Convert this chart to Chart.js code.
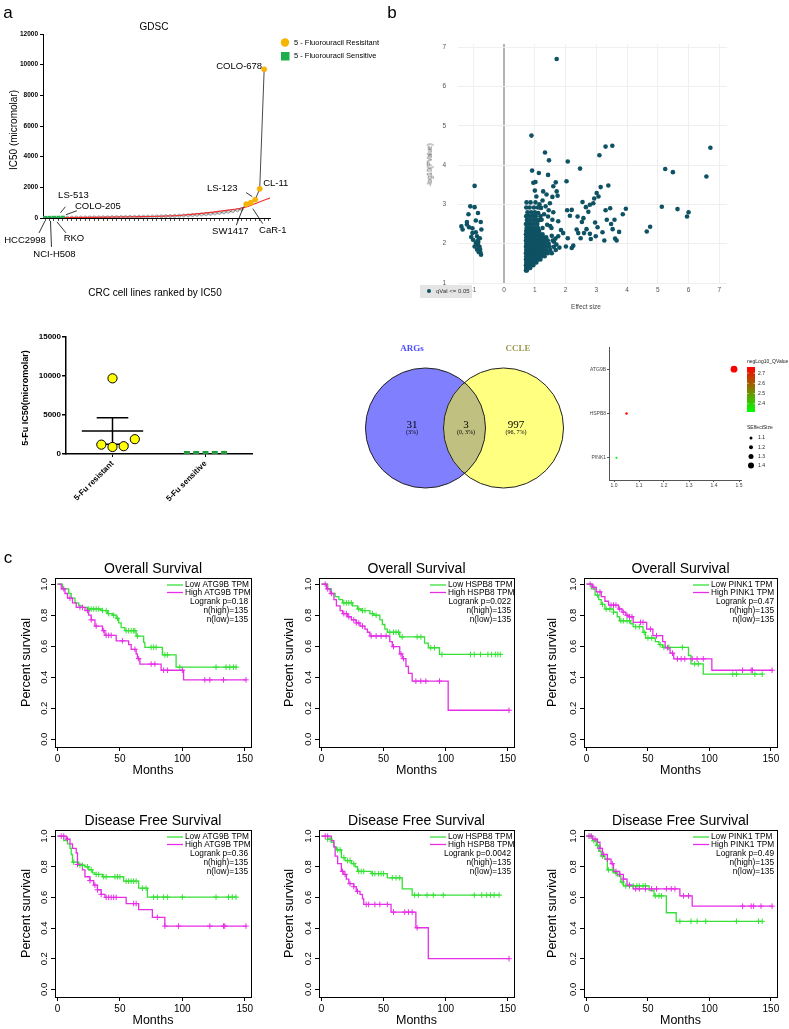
<!DOCTYPE html>
<html>
<head>
<meta charset="utf-8">
<title>5-FU resistance, autophagy genes and survival</title>
<script src="https://cdn.jsdelivr.net/npm/chart.js@4.4.1/dist/chart.umd.min.js"></script>
<style>
  body { margin: 0; background: #fff; }
  #page { position: relative; width: 789px; height: 1029px; overflow: hidden; font-family: "Liberation Sans", Arial, sans-serif; color: #000; }
  canvas { position: absolute; }
  .lbl { position: absolute; white-space: nowrap; transform: translate(-50%, -50%); line-height: 1; }
  .rot { transform: translate(-50%, -50%) rotate(-90deg); }
  #qbox { position: absolute; left: 420px; top: 285px; width: 52px; height: 13px; background: #e4e4e4; font-size: 6px; color: #333; }
</style>
</head>
<body>
<div id="page">
  <canvas id="gdsc" width="390" height="300" style="left:0;top:0"></canvas>
  <canvas id="volcano" width="399" height="320" style="left:390px;top:0"></canvas>
  <canvas id="fuDot" width="330" height="185" style="left:0;top:320px"></canvas>
  <canvas id="venn" width="235" height="165" style="left:350px;top:335px"></canvas>
  <canvas id="bubble" width="199" height="165" style="left:590px;top:335px"></canvas>
  <canvas id="km0" width="263" height="240" style="left:0;top:540px"></canvas>
  <canvas id="km1" width="263" height="240" style="left:263px;top:540px"></canvas>
  <canvas id="km2" width="263" height="240" style="left:526px;top:540px"></canvas>
  <canvas id="km3" width="263" height="239" style="left:0;top:790px"></canvas>
  <canvas id="km4" width="263" height="239" style="left:263px;top:790px"></canvas>
  <canvas id="km5" width="263" height="239" style="left:526px;top:790px"></canvas>

  <div class="lbl" style="left:8px;top:12px;font-size:17px">a</div>
  <div class="lbl" style="left:154px;top:27px;font-size:10px">GDSC</div>
  <div class="lbl rot" style="left:14px;top:130px;font-size:10px">IC50 (micromolar)</div>
  <div class="lbl" style="left:155px;top:293px;font-size:10px">CRC cell lines ranked by IC50</div>
  <div class="lbl" style="left:392px;top:12px;font-size:17px">b</div>
  <div class="lbl rot" style="left:430px;top:165px;font-size:6.5px;color:#444">-log10(PValue)</div>
  <div class="lbl" style="left:586px;top:307px;font-size:6.5px;color:#444">Effect size</div>
  <div id="qbox"><span style="position:absolute;left:7px;top:4px;width:4px;height:4px;border-radius:2px;background:#0e5263"></span><span style="position:absolute;left:16px;top:3px">qVal &lt;= 0.05</span></div>
  <div class="lbl rot" style="left:25px;top:398px;font-size:9px;font-weight:bold">5-Fu IC50(micromolar)</div>
  <div class="lbl" style="left:8px;top:557px;font-size:17px">c</div>
</div>

<script>
// ---- data ----
// panel a: GDSC CRC cell lines ranked by 5-FU IC50
const gdscSensitive = [3, 6, 10, 14, 18];
const gdscOther = [22, 25, 28, 30, 33, 36, 39, 42, 45, 48, 52, 56, 60, 64, 68, 73, 78, 84, 90, 96,
                   103, 110, 118, 127, 137, 148, 160, 174, 190, 208, 228, 250, 275, 303, 335, 370, 410, 455, 510, 580];
const gdscResistant = [900, 1000, 1200, 1900, 9700];
const gdscFitRank = [0, 10, 20, 27, 31, 35, 40, 45, 47.5, 50.3];
const gdscFitValue = [15, 40, 80, 130, 200, 300, 480, 720, 1000, 1300];
const gdscNamed = ['HCC2998', 'NCI-H508', 'RKO', 'LS-513', 'COLO-205', 'SW1417', 'CaR-1', 'LS-123', 'CL-11', 'COLO-678'];
const gdscNamedRank = [0, 1, 2, 3, 4, 45, 46, 47, 48, 49];

// panel b: effect size vs -log10(p)
const volcanoPoints = [
  [1.71,6.70],[0.89,4.75],[1.33,4.32],[1.46,4.12],[2.07,4.09],[2.47,3.91],[0.91,3.86],[1.13,3.80],[1.43,3.75],
  [3.30,4.47],[3.52,4.49],[3.10,4.25],[6.71,4.44],[5.24,3.90],[5.49,3.82],[6.58,3.71],[2.03,3.59],[3.39,3.48],
  [3.14,3.44],[5.13,2.94],[5.64,2.88],[6.00,2.80],[5.95,2.69],[4.64,2.31],[4.75,2.43],[3.96,2.89],[3.86,2.75],
  [3.45,2.90],[3.01,3.29],[3.07,3.20],[2.93,3.15],[2.90,3.03],[2.79,2.99],[2.55,3.06],[2.66,2.93],[2.74,2.81],
  [2.20,2.86],[2.05,2.85],[2.14,2.71],[2.39,2.69],[2.58,2.65],[2.53,2.55],[2.68,2.37],[2.60,2.27],[2.79,2.25],
  [2.36,2.36],[2.41,2.27],[2.49,2.14],[2.82,2.12],[2.98,2.19],[3.04,2.42],[2.96,2.54],[3.20,2.29],[3.26,2.08],
  [3.34,2.61],[3.48,2.50],[3.53,2.37],[3.59,2.61],[3.74,2.30],[3.61,2.13],[3.66,2.08],[3.30,2.85],[1.76,2.57],
  [1.67,2.13],[1.76,2.19],[2.07,2.14],[2.01,1.93],[2.25,1.95],[2.20,1.89],[1.92,2.27],[1.68,3.56],[1.60,3.46],
  [1.71,3.33],[1.74,3.22],[1.27,3.33],[1.38,3.25],[1.57,3.19],[1.49,3.03],[1.20,2.91],[1.11,2.78],[1.43,2.69],
  [1.57,2.61],[1.40,2.48],[1.22,2.61],[1.54,2.40],[1.62,2.05],[1.70,1.98],[1.80,1.90],[1.55,2.20],[1.85,2.35],
  [1.50,2.45],[1.30,2.75],[1.35,2.95],[1.25,3.10],[1.05,3.20],[1.00,3.35],[0.95,3.55],[1.02,3.57],[1.15,3.00],
  [1.45,2.85],[1.60,2.80],
  [-0.96,3.47],[-1.10,2.95],[-0.96,2.93],[-1.16,2.75],[-0.85,2.78],[-1.39,2.44],[-1.35,2.36],[-1.21,2.49],
  [-1.14,2.42],[-1.03,2.39],[-0.76,2.55],[-0.74,2.36],[-0.92,2.29],[-0.88,2.19],[-1.07,2.17],[-0.79,2.14],
  [-1.01,2.10],[-0.92,2.02],[-0.85,1.97],[-0.96,1.93],[-0.88,1.85],[-0.79,1.81],[-0.82,1.89],[-0.75,1.72],
  [-0.77,1.77],[-0.84,2.04],[-1.03,2.27],[-1.21,2.55],[-0.92,2.59],[-0.80,1.92],[-0.86,2.08],[-0.78,1.85],[-0.83,1.79]
];
// dense part of the cloud, one row per -log10(p) level: [y, [effect sizes]]
const volcanoDenseRows = [
  [1.32, [0.71, 0.74]],
  [1.38, [0.72, 0.76, 0.80, 0.85]],
  [1.45, [0.71, 0.75, 0.79, 0.84, 0.89, 0.95]],
  [1.52, [0.72, 0.77, 0.82, 0.87, 0.93, 0.99, 1.05]],
  [1.60, [0.71, 0.75, 0.80, 0.86, 0.92, 0.98, 1.04, 1.11, 1.18]],
  [1.68, [0.72, 0.77, 0.83, 0.89, 0.95, 1.01, 1.08, 1.15, 1.23, 1.32]],
  [1.76, [0.71, 0.76, 0.82, 0.88, 0.94, 1.00, 1.07, 1.14, 1.22, 1.30, 1.42, 1.55]],
  [1.84, [0.72, 0.78, 0.84, 0.90, 0.97, 1.04, 1.11, 1.19, 1.27, 1.37, 1.50, 1.68]],
  [1.92, [0.71, 0.76, 0.82, 0.88, 0.95, 1.02, 1.09, 1.17, 1.25, 1.36, 1.48, 1.62]],
  [2.00, [0.72, 0.78, 0.85, 0.92, 0.99, 1.06, 1.14, 1.22, 1.33, 1.45]],
  [2.08, [0.71, 0.77, 0.83, 0.90, 0.97, 1.04, 1.12, 1.21, 1.30, 1.42, 1.58]],
  [2.16, [0.72, 0.79, 0.86, 0.93, 1.01, 1.09, 1.18, 1.28, 1.37]],
  [2.24, [0.71, 0.77, 0.84, 0.91, 0.99, 1.07, 1.16, 1.25]],
  [2.32, [0.72, 0.80, 0.88, 0.96, 1.05, 1.14]],
  [2.40, [0.73, 0.82, 0.90, 1.00, 1.10, 1.25]],
  [2.50, [0.71, 0.79, 0.88, 0.98, 1.08]],
  [2.60, [0.74, 0.84, 0.95, 1.05, 1.15]],
  [2.70, [0.72, 0.81, 0.92, 1.03, 1.18]],
  [2.80, [0.76, 0.88, 1.00]],
  [2.92, [0.72, 0.83, 0.97, 1.10]],
  [3.05, [0.73, 0.86, 1.02]]
];

// middle left: 5-FU IC50 by group
const fuGroups = ['5-Fu resistant', '5-Fu sensitive'];
const fuResistant = [1200, 900, 1000, 1900, 9700];
const fuSensitive = [5, 8, 10, 12, 15];

// Venn
const vennNames = ['ARGs', 'CCLE'];
const vennOnly = [31, 997];
const vennBoth = 3;

// bubble plot
const bubbleGenes = ['ATG9B', 'HSPB8', 'PINK1'];
const bubbleEffect = [1.48, 1.05, 1.01];
const bubbleNegLogQ = [2.76, 2.74, 2.32];
const bubbleQTicks = [2.4, 2.5, 2.6, 2.7];
const bubbleSizeTicks = [1.1, 1.2, 1.3, 1.4];

// panel c: Kaplan-Meier curves, [month, survival after step]
const osAtg9bLow = [[0,1],[4,0.97],[9,0.94],[11,0.91],[14,0.88],[17,0.86],[20,0.85],[24,0.84],[35,0.83],[40,0.81],[44,0.80],[47,0.78],[49,0.75],[51,0.72],[54,0.70],[63,0.665],[69,0.625],[70,0.593],[84,0.544],[95,0.465],[144,0.465]];
const osAtg9bHigh = [[0,1],[3,0.97],[6,0.94],[8,0.91],[12,0.88],[15,0.85],[22,0.83],[25,0.80],[27,0.77],[30,0.73],[36,0.70],[38,0.67],[47,0.635],[57,0.61],[59,0.58],[63,0.55],[64,0.52],[66,0.485],[83,0.445],[101,0.383],[151,0.383]];
const osAtg9bLowCens = [25,27,29,31,33,36,39,41,45,48,55,57,59,61,62,64,75,77,79,86,88,98,127,135,138,141,143];
const osAtg9bHighCens = [5,10,18,20,24,27,31,37,39,41,43,52,62,65,75,78,85,88,100,118,122,133,151];

const osHspb8Low = [[0,1],[5,0.97],[8,0.94],[11,0.92],[14,0.90],[17,0.88],[25,0.86],[29,0.84],[32,0.83],[39,0.81],[42,0.80],[47,0.77],[49,0.74],[51,0.71],[53,0.69],[63,0.66],[83,0.62],[86,0.59],[95,0.547],[144,0.547]];
const osHspb8High = [[0,1],[4,0.97],[7,0.94],[10,0.90],[12,0.86],[15,0.83],[17,0.81],[21,0.79],[24,0.77],[28,0.75],[31,0.73],[35,0.71],[37,0.69],[39,0.666],[55,0.63],[57,0.597],[63,0.55],[65,0.52],[68,0.47],[70,0.425],[73,0.375],[102,0.187],[151,0.187]];
const osHspb8LowCens = [18,20,22,24,30,33,35,41,44,55,58,60,62,65,77,80,88,91,97,120,123,128,134,137,140,142,144];
const osHspb8HighCens = [3,5,8,18,20,22,26,28,30,33,40,44,48,52,58,64,66,76,80,84,95,151];

const osPink1Low = [[0,1],[4,0.97],[7,0.93],[10,0.90],[12,0.87],[15,0.84],[22,0.82],[25,0.79],[27,0.764],[36,0.745],[38,0.726],[46,0.69],[48,0.653],[56,0.63],[59,0.61],[62,0.593],[83,0.54],[85,0.486],[95,0.42],[143,0.42]];
const osPink1High = [[0,1],[5,0.98],[8,0.95],[12,0.92],[15,0.89],[18,0.865],[26,0.84],[29,0.82],[32,0.80],[34,0.79],[38,0.754],[49,0.71],[54,0.668],[62,0.63],[64,0.59],[68,0.555],[71,0.518],[102,0.445],[151,0.445]];
const osPink1LowCens = [9,13,16,19,22,28,30,33,35,40,43,47,50,53,60,63,67,78,88,91,119,122,137,143];
const osPink1HighCens = [3,6,11,20,22,24,27,30,33,35,37,44,46,52,57,66,70,74,77,80,86,90,95,127,134,135,151];

const dfsAtg9bLow = [[0,1],[5,0.97],[8,0.95],[10,0.92],[11,0.88],[12,0.83],[17,0.81],[22,0.80],[25,0.78],[28,0.76],[30,0.75],[36,0.735],[53,0.706],[65,0.66],[72,0.602],[144,0.602]];
const dfsAtg9bHigh = [[0,1],[7,0.98],[10,0.95],[12,0.92],[15,0.89],[16,0.815],[20,0.78],[22,0.735],[26,0.71],[29,0.68],[32,0.65],[35,0.62],[38,0.60],[55,0.56],[65,0.52],[76,0.47],[86,0.413],[151,0.413]];
const dfsAtg9bLowCens = [13,18,20,24,27,31,33,37,39,46,48,50,55,57,59,61,63,68,71,77,80,85,88,100,127,137,140,143];
const dfsAtg9bHighCens = [3,5,8,16,26,30,32,35,39,41,43,45,47,61,63,80,86,97,122,133,134,151];

const dfsHspb8Low = [[0,1],[5,0.98],[8,0.96],[10,0.93],[12,0.91],[16,0.86],[19,0.84],[24,0.82],[27,0.80],[29,0.77],[40,0.755],[53,0.728],[65,0.656],[73,0.615],[144,0.615]];
const dfsHspb8High = [[0,1],[8,0.97],[10,0.93],[11,0.87],[13,0.82],[16,0.77],[18,0.75],[20,0.72],[22,0.69],[26,0.67],[28,0.64],[31,0.62],[33,0.59],[34,0.554],[56,0.504],[76,0.402],[86,0.20],[151,0.20]];
const dfsHspb8LowCens = [5,7,13,15,18,21,23,26,30,32,34,41,43,46,48,50,57,60,63,75,78,85,90,98,123,129,133,136,139,143];
const dfsHspb8HighCens = [3,5,17,19,23,26,29,36,38,43,47,53,58,67,70,73,77,151];

const dfsPink1Low = [[0,1],[5,0.97],[8,0.94],[10,0.90],[12,0.87],[15,0.85],[17,0.78],[22,0.76],[25,0.74],[28,0.70],[30,0.675],[51,0.645],[55,0.61],[65,0.50],[73,0.444],[143,0.444]];
const dfsPink1High = [[0,1],[5,0.98],[9,0.96],[11,0.92],[13,0.88],[17,0.85],[20,0.82],[22,0.77],[27,0.75],[30,0.72],[33,0.68],[38,0.656],[76,0.61],[86,0.543],[151,0.543]];
const dfsPink1LowCens = [3,6,9,13,18,21,24,29,32,35,38,41,43,46,48,56,59,61,76,85,90,97,122,140,143];
const dfsPink1HighCens = [2,4,7,11,14,17,21,24,27,30,35,40,43,48,53,57,65,69,72,79,83,127,134,136,142,151];

const kmTitles = ['Overall Survival', 'Overall Survival', 'Overall Survival', 'Disease Free Survival', 'Disease Free Survival', 'Disease Free Survival'];
const kmGenes = ['ATG9B', 'HSPB8', 'PINK1', 'ATG9B', 'HSPB8', 'PINK1'];
const kmLogrankP = ['0.18', '0.022', '0.47', '0.36', '0.0042', '0.49'];
const kmNHigh = 135, kmNLow = 135;
const kmLow = [osAtg9bLow, osHspb8Low, osPink1Low, dfsAtg9bLow, dfsHspb8Low, dfsPink1Low];
const kmHigh = [osAtg9bHigh, osHspb8High, osPink1High, dfsAtg9bHigh, dfsHspb8High, dfsPink1High];
const kmLowCens = [osAtg9bLowCens, osHspb8LowCens, osPink1LowCens, dfsAtg9bLowCens, dfsHspb8LowCens, dfsPink1LowCens];
const kmHighCens = [osAtg9bHighCens, osHspb8HighCens, osPink1HighCens, dfsAtg9bHighCens, dfsHspb8HighCens, dfsPink1HighCens];

// ---- defaults ----
const FONT = '"Liberation Sans", Arial, sans-serif';
Chart.defaults.font.family = FONT;
Chart.defaults.color = '#000';
Chart.defaults.animation = false;
Chart.defaults.responsive = false;
Chart.defaults.events = [];
Chart.defaults.plugins.legend.display = false;
Chart.defaults.plugins.tooltip.enabled = false;

const fixW = w => s => { s.width = w; };
const fixH = h => s => { s.height = h; };

// ---- panel a ----
const gdscIC50 = gdscSensitive.concat(gdscOther, gdscResistant);
const gdscPts = (from, to) => gdscIC50.slice(from, to).map((v, i) => ({x: from + i, y: v}));
const nS = gdscSensitive.length, nR = gdscResistant.length, nAll = gdscIC50.length;

// label placement around each named point: text centre, leader line
const gdscLabelPlace = {
  'HCC2998': {tx: -20, ty: 22, line: [0, 3, -6, 15]},
  'NCI-H508': {tx: 5, ty: 36, line: [1, 3, 2, 29]},
  'RKO': {tx: 20, ty: 21, line: [3, 4, 12, 15]},
  'LS-513': {tx: 15, ty: -22, line: [2, -5, 7, -11]},
  'COLO-205': {tx: 35, ty: -11, line: [3, -3, 14, -7]},
  'SW1417': {tx: -16, ty: 27, line: [-3, 3, -10, 21]},
  'CaR-1': {tx: 22, ty: 28, line: [2, 6, 12, 21]},
  'LS-123': {tx: -33, ty: -11, line: [-3, -3, -9, -7]},
  'CL-11': {tx: 16, ty: -5},
  'COLO-678': {tx: -25, ty: -3}
};

const gdscDecor = {
  id: 'gdscDecor',
  afterDatasetsDraw(chart) {
    const {ctx, scales: {x, y}} = chart;
    ctx.save();
    ctx.fillStyle = '#000';
    ctx.strokeStyle = '#000';
    ctx.lineWidth = 0.8;
    ctx.font = '9.5px ' + FONT;
    ctx.textAlign = 'center';
    ctx.textBaseline = 'middle';
    gdscNamed.forEach((name, i) => {
      const rank = gdscNamedRank[i];
      const px = x.getPixelForValue(rank), py = y.getPixelForValue(gdscIC50[rank]);
      const p = gdscLabelPlace[name];
      if (p.line) {
        ctx.beginPath();
        ctx.moveTo(px + p.line[0], py + p.line[1]);
        ctx.lineTo(px + p.line[2], py + p.line[3]);
        ctx.stroke();
      }
      ctx.fillText(name, px + p.tx, py + p.ty);
    });
    // legend
    ctx.textAlign = 'left';
    ctx.font = '7.5px ' + FONT;
    ctx.fillStyle = '#f7b500';
    ctx.beginPath(); ctx.arc(285, 42.5, 4.2, 0, Math.PI * 2); ctx.fill();
    ctx.fillStyle = '#1fae4b';
    ctx.fillRect(281, 52, 8.5, 8.5);
    ctx.fillStyle = '#000';
    ctx.fillText('5 - Fluorouracil Resisitant', 294, 42.5);
    ctx.fillText('5 - Fluorouracil Sensitive', 294, 56.3);
    ctx.restore();
  }
};

new Chart(document.getElementById('gdsc'), {
  type: 'scatter',
  data: {
    datasets: [
      {data: gdscPts(nAll - nR, nAll), pointRadius: 2.6, backgroundColor: '#f7b500', borderColor: '#f0a800', borderWidth: 0.5},
      {data: gdscPts(0, nS), pointStyle: 'rect', pointRadius: 2.9, backgroundColor: '#1fae4b', borderColor: '#1fae4b', borderWidth: 0},
      {data: gdscFitRank.map((r, i) => ({x: r, y: gdscFitValue[i]})), showLine: true, borderColor: '#f03030',
       borderWidth: 1.1, pointRadius: 0, cubicInterpolationMode: 'monotone'},
      {data: gdscPts(nS, nAll - nR), pointRadius: 1.6, backgroundColor: '#d8d8d8', borderColor: '#8a8a8a', borderWidth: 0.7},
      {data: gdscPts(0, nAll), showLine: true, borderColor: '#4a4a4a', borderWidth: 1, pointRadius: 0}
    ]
  },
  options: {
    layout: {padding: {left: 0, top: 34, right: 120, bottom: 0}},
    scales: {
      x: {type: 'linear', min: -0.45, max: 50.3, afterFit: fixH(82),
          ticks: {display: false, stepSize: 1, includeBounds: false},
          grid: {drawOnChartArea: false, tickLength: 3, color: '#222', lineWidth: 0.8},
          border: {color: '#000', width: 1}},
      y: {min: 0, max: 12000, afterFit: fixW(43),
          ticks: {stepSize: 2000, padding: 2, font: {size: 6.5, weight: 'bold'}, callback: v => String(v)},
          grid: {drawOnChartArea: false, tickLength: 3, color: '#000'},
          border: {color: '#000', width: 1}}
    }
  },
  plugins: [gdscDecor]
});

// ---- panel b ----
const volcanoAll = volcanoPoints.map(([x, y]) => ({x, y}));
volcanoDenseRows.forEach(([y, xs]) => xs.forEach(x => volcanoAll.push({x, y})));

new Chart(document.getElementById('volcano'), {
  type: 'scatter',
  data: {datasets: [{data: volcanoAll, pointRadius: 2.3, backgroundColor: '#0e5263', borderWidth: 0}]},
  options: {
    layout: {padding: {left: 0, top: 44, right: 62, bottom: 0}},
    scales: {
      x: {min: -1.5, max: 7.25, afterFit: fixH(37),
          ticks: {stepSize: 1, includeBounds: false, padding: 3, color: '#555', font: {size: 6.5}},
          grid: {drawTicks: false,
                 color: c => (c.tick && c.tick.value === 0) ? '#b4b4b4' : '#efefef',
                 lineWidth: c => (c.tick && c.tick.value === 0) ? 2 : 1},
          border: {display: false}},
      y: {min: 1, max: 7.08, afterFit: fixW(68),
          ticks: {stepSize: 1, includeBounds: false, padding: 12, color: '#555', font: {size: 6.5}},
          grid: {drawTicks: false, color: '#efefef'},
          border: {display: false}}
    }
  }
});

// ---- 5-FU IC50 dot plot ----
const jitterR = [-0.12, 0, 0.12, 0.24, 0];
const jitterS = [-0.2, -0.1, 0, 0.1, 0.2];
const fuMean = fuResistant.reduce((a, b) => a + b, 0) / fuResistant.length;
const fuSem = Math.sqrt(fuResistant.reduce((a, b) => a + (b - fuMean) ** 2, 0) / (fuResistant.length - 1)) / Math.sqrt(fuResistant.length);
const seg = (x1, x2, y1, y2) => ({data: [{x: x1, y: y1}, {x: x2, y: y2}], showLine: true, borderColor: '#000', borderWidth: 1.5, pointRadius: 0});

new Chart(document.getElementById('fuDot'), {
  type: 'scatter',
  data: {
    datasets: [
      {data: fuResistant.map((v, i) => ({x: 0.5 + jitterR[i], y: v})), pointRadius: 4.6, backgroundColor: '#ffff00', borderColor: '#000', borderWidth: 1},
      {data: fuSensitive.map((v, i) => ({x: 1.5 + jitterS[i], y: v})), pointStyle: 'rect', pointRadius: 4.2, backgroundColor: '#1e9c3c', borderWidth: 0},
      seg(0.17, 0.83, fuMean, fuMean),
      seg(0.5, 0.5, fuMean - fuSem, fuMean + fuSem),
      seg(0.33, 0.67, fuMean + fuSem, fuMean + fuSem),
      seg(0.33, 0.67, fuMean - fuSem, fuMean - fuSem)
    ]
  },
  options: {
    layout: {padding: {left: 0, top: 17, right: 78, bottom: 0}},
    scales: {
      x: {min: 0, max: 2, afterFit: fixH(51),
          afterBuildTicks: s => { s.ticks = fuGroups.map((g, i) => ({value: i + 0.5})); },
          ticks: {callback: (v, i) => fuGroups[i], minRotation: 45, maxRotation: 45, padding: 2, font: {size: 8, weight: 'bold'}},
          grid: {drawOnChartArea: false, tickLength: 3, color: '#000'},
          border: {color: '#000', width: 1.5}},
      y: {min: 0, max: 15000, afterFit: fixW(66),
          ticks: {stepSize: 5000, padding: 1, font: {size: 8, weight: 'bold'}, callback: v => String(v)},
          grid: {drawOnChartArea: false, tickLength: 4, color: '#000', lineWidth: 1.5},
          border: {color: '#000', width: 1.5}}
    }
  }
});

// ---- Venn ----
const vennCenters = [-0.65, 0.65];
const vennTotal = vennOnly[0] + vennOnly[1] + vennBoth;
const pct = n => '(' + String(Math.round(n / vennTotal * 1000) / 10).replace('.', ', ') + '%)';

const vennDecor = {
  id: 'vennDecor',
  afterDatasetsDraw(chart) {
    const {ctx, scales: {x, y}} = chart;
    const r = x.getPixelForValue(1) - x.getPixelForValue(0);
    const cy = y.getPixelForValue(0);
    const cx = vennCenters.map(c => x.getPixelForValue(c));
    const circle = i => { ctx.beginPath(); ctx.arc(cx[i], cy, r, 0, Math.PI * 2); };
    ctx.save();
    ctx.fillStyle = '#8080ff'; circle(0); ctx.fill();
    ctx.fillStyle = '#ffff80'; circle(1); ctx.fill();
    ctx.save(); circle(0); ctx.clip(); ctx.fillStyle = '#c0c080'; circle(1); ctx.fill(); ctx.restore();
    ctx.strokeStyle = '#222'; ctx.lineWidth = 1;
    circle(0); ctx.stroke(); circle(1); ctx.stroke();
    ctx.textAlign = 'center'; ctx.textBaseline = 'middle';
    ctx.font = 'bold 9px "Liberation Serif", serif';
    ctx.fillStyle = '#4b4bff';
    ctx.fillText(vennNames[0], x.getPixelForValue(-0.875), y.getPixelForValue(1.317));
    ctx.fillStyle = '#9a9a50';
    ctx.fillText(vennNames[1], x.getPixelForValue(0.892), y.getPixelForValue(1.317));
    ctx.fillStyle = '#000';
    const cols = [[-0.875, vennOnly[0]], [0.025, vennBoth], [0.858, vennOnly[1]]];
    cols.forEach(([ux, n]) => {
      ctx.font = '11px "Liberation Serif", serif';
      ctx.fillText(String(n), x.getPixelForValue(ux), y.getPixelForValue(0.05));
      ctx.font = '6px "Liberation Serif", serif';
      ctx.fillText(pct(n), x.getPixelForValue(ux), y.getPixelForValue(-0.07));
    });
    ctx.restore();
  }
};

new Chart(document.getElementById('venn'), {
  type: 'scatter',
  data: {datasets: [{data: vennCenters.map(c => ({x: c, y: 0})), pointRadius: 0}]},
  options: {
    layout: {padding: 0},
    scales: {
      x: {display: false, min: -1.908, max: 2.008},
      y: {display: false, min: -1.2, max: 1.55}
    }
  },
  plugins: [vennDecor]
});

// ---- bubble plot ----
const qMin = 2.32, qMax = 2.76;
const qColor = q => {
  const t = Math.max(0, Math.min(1, (q - qMin) / (qMax - qMin)));
  return 'rgb(' + Math.round(255 * t) + ',' + Math.round(255 * (1 - t)) + ',0)';
};
const sizeR = s => 1 + (s - 1) * 5;

const bubbleLegend = {
  id: 'bubbleLegend',
  afterDraw(chart) {
    const {ctx, chartArea: a} = chart;
    const lx = a.right + 6;
    ctx.save();
    ctx.fillStyle = '#222';
    ctx.font = '5px ' + FONT;
    ctx.textAlign = 'left'; ctx.textBaseline = 'middle';
    ctx.fillText('negLog10_QValue', lx, 27);
    const top = 32, bot = 77;
    const g = ctx.createLinearGradient(0, top, 0, bot);
    g.addColorStop(0, qColor(qMax)); g.addColorStop(0.5, qColor((qMax + qMin) / 2)); g.addColorStop(1, qColor(qMin));
    ctx.fillStyle = g;
    ctx.fillRect(lx, top, 8, bot - top);
    bubbleQTicks.forEach(v => {
      const yy = bot - (v - qMin) / (qMax - qMin) * (bot - top);
      ctx.strokeStyle = '#fff'; ctx.lineWidth = 0.6;
      ctx.beginPath(); ctx.moveTo(lx, yy); ctx.lineTo(lx + 1.5, yy); ctx.moveTo(lx + 6.5, yy); ctx.lineTo(lx + 8, yy); ctx.stroke();
      ctx.fillStyle = '#222';
      ctx.fillText(v.toFixed(1), lx + 11, yy);
    });
    ctx.fillText('SEffectSize', lx, 93);
    bubbleSizeTicks.forEach((s, i) => {
      const yy = 103 + i * 9.2;
      ctx.fillStyle = '#000';
      ctx.beginPath(); ctx.arc(lx + 4, yy, sizeR(s), 0, Math.PI * 2); ctx.fill();
      ctx.fillStyle = '#222';
      ctx.fillText(s.toFixed(1), lx + 11, yy);
    });
    ctx.restore();
  }
};

new Chart(document.getElementById('bubble'), {
  type: 'bubble',
  data: {
    datasets: [{
      data: bubbleGenes.map((g, i) => ({x: bubbleEffect[i], y: g, r: sizeR(bubbleEffect[i])})),
      backgroundColor: bubbleNegLogQ.map(qColor),
      borderWidth: 0
    }]
  },
  options: {
    layout: {padding: {left: 0, top: 12, right: 48, bottom: 0}},
    scales: {
      x: {min: 0.98, max: 1.508, afterFit: fixH(20),
          ticks: {stepSize: 0.1, includeBounds: false, padding: 1, color: '#444', font: {size: 5}, callback: v => v.toFixed(1)},
          grid: {drawOnChartArea: false, tickLength: 2, color: '#555'},
          border: {color: '#555', width: 1}},
      y: {type: 'category', labels: bubbleGenes, offset: true, afterFit: fixW(19),
          ticks: {padding: 1, color: '#444', font: {size: 5}},
          grid: {drawOnChartArea: false, tickLength: 2, color: '#555'},
          border: {color: '#555', width: 1}}
    }
  },
  plugins: [bubbleLegend]
});

// ---- panel c: Kaplan-Meier ----
const LOW = '#36e036', HIGH = '#e62ee6';
const stepAt = (curve, t) => { let s = 1; curve.forEach(([ti, si]) => { if (ti <= t) s = si; }); return s; };
const kmLeft = [55, 56, 58];

function kmDecor(i) {
  return {
    id: 'kmDecor',
    afterDraw(chart) {
      const {ctx, chartArea: a, scales: {y}} = chart;
      const mid = (a.left + a.right) / 2;
      ctx.save();
      ctx.strokeStyle = '#000'; ctx.lineWidth = 1;
      ctx.strokeRect(Math.round(a.left) + 0.5, Math.round(a.top) + 0.5, Math.round(a.right - a.left), Math.round(a.bottom - a.top));
      ctx.fillStyle = '#000';
      ctx.textAlign = 'center'; ctx.textBaseline = 'middle';
      ctx.font = '9.5px ' + FONT;
      y.ticks.forEach(t => {
        ctx.save();
        ctx.translate(a.left - 11, y.getPixelForValue(t.value));
        ctx.rotate(-Math.PI / 2);
        ctx.fillText(t.value.toFixed(1), 0, 0);
        ctx.restore();
      });
      ctx.font = '14px ' + FONT;
      ctx.fillText(kmTitles[i], mid, a.top - 9);
      ctx.font = '12.5px ' + FONT;
      ctx.fillText('Months', mid, a.bottom + 24);
      ctx.save();
      ctx.translate(27, (a.top + a.bottom) / 2);
      ctx.rotate(-Math.PI / 2);
      ctx.fillText('Percent survival', 0, 0);
      ctx.restore();
      // legend
      ctx.font = '8.3px ' + FONT;
      ctx.textAlign = 'left';
      ctx.lineWidth = 1.3;
      [[LOW, 'Low '], [HIGH, 'High ']].forEach(([c, w], k) => {
        const yy = a.top + 7 + k * 7.5;
        ctx.strokeStyle = c;
        ctx.beginPath(); ctx.moveTo(a.right - 84, yy); ctx.lineTo(a.right - 68, yy); ctx.stroke();
        ctx.fillText(w + kmGenes[i] + ' TPM', a.right - 66, yy);
      });
      ctx.textAlign = 'right';
      ctx.fillText('Logrank p=' + kmLogrankP[i], a.right - 3, a.top + 24);
      ctx.fillText('n(high)=' + kmNHigh, a.right - 3, a.top + 33);
      ctx.fillText('n(low)=' + kmNLow, a.right - 3, a.top + 42);
      ctx.restore();
    }
  };
}

kmTitles.forEach((title, i) => {
  const canvas = document.getElementById('km' + i);
  const top = i < 3 ? 38 : 40;
  const curve = (c, col) => ({data: c.map(([x, y]) => ({x, y})), showLine: true, stepped: true, borderColor: col, borderWidth: 1.3, pointRadius: 0});
  const marks = (c, times, col) => ({data: times.map(t => ({x: t, y: stepAt(c, t)})), pointStyle: 'cross', pointRadius: 2.8, borderColor: col, borderWidth: 1});
  new Chart(canvas, {
    type: 'scatter',
    data: {
      datasets: [
        marks(kmHigh[i], kmHighCens[i], HIGH),
        marks(kmLow[i], kmLowCens[i], LOW),
        curve(kmHigh[i], HIGH),
        curve(kmLow[i], LOW)
      ]
    },
    options: {
      layout: {padding: {left: 0, top: top, right: 12, bottom: 0}},
      scales: {
        x: {min: -2, max: 155, afterFit: fixH(canvas.height - 207),
            ticks: {stepSize: 50, includeBounds: false, padding: 2, font: {size: 10}},
            grid: {drawOnChartArea: false, tickLength: 4, color: '#000'},
            border: {display: false}},
        y: {min: -0.05, max: 1.04, afterFit: fixW(kmLeft[i % 3]),
            ticks: {stepSize: 0.2, includeBounds: false, display: false},
            grid: {drawOnChartArea: false, tickLength: 4, color: '#000'},
            border: {display: false}}
      }
    },
    plugins: [kmDecor(i)]
  });
});
</script>
</body>
</html>
